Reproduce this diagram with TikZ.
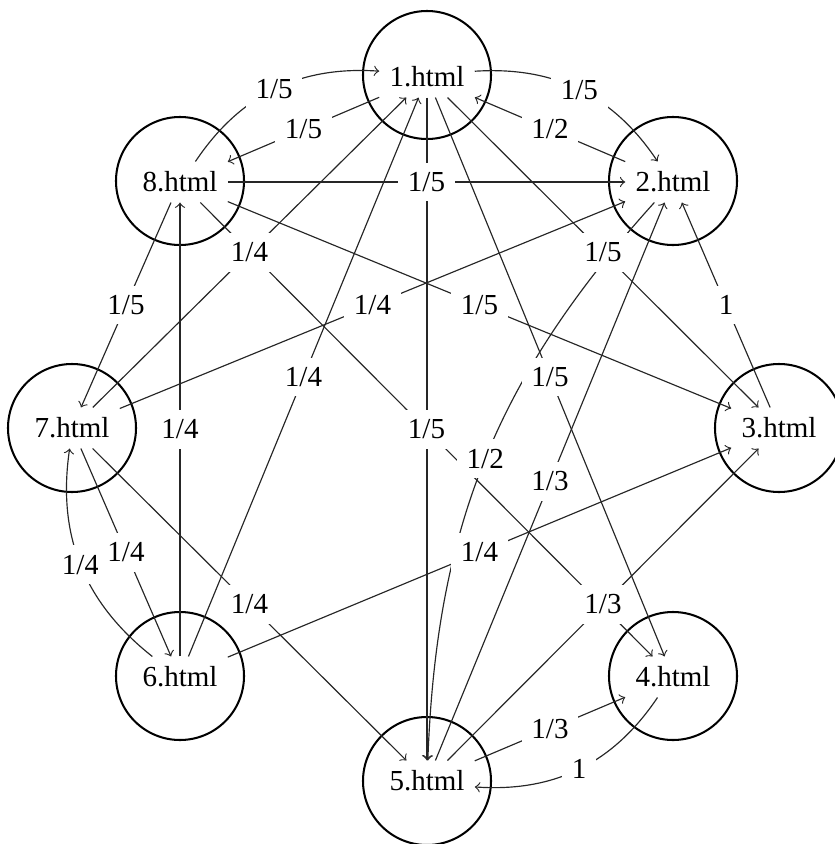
\documentclass[tikz,border=0pt]{standalone}
\usepackage{fontspec}
\setmainfont{Liberation Serif}
\pgfdeclarelayer{fg}
\pgfsetlayers{main,fg}
\tikzset{
  pg/.style={inner sep=0.3333em, font=\fontsize{10}{12}\selectfont},
  ring/.style={circle, draw, line width=0.7pt, minimum size=44.1pt, inner sep=0pt},
  lnk/.style={->, line width=0.4pt, black!85},
  lab/.style={fill=white, inner sep=0.3333em, font=\fontsize{10}{12}\selectfont},
}
\newcommand\pgedge[4][]{%
  \draw[lnk] (n#2) to[#1] (n#3);
  \begin{pgfonlayer}{fg}\path (n#2) to[#1] node[lab] {#4} (n#3);\end{pgfonlayer}}
\begin{document}
\begin{tikzpicture}[x=0.3445pt, y=0.3445pt]
\useasboundingbox (0,0) rectangle (834,-844);
% text nodes
\node[pg] (n1) at (427,-77) {1.html};
\node[pg] (n2) at (673,-182) {2.html};
\node[pg] (n3) at (779,-428) {3.html};
\node[pg] (n4) at (673,-677) {4.html};
\node[pg] (n5) at (427,-781) {5.html};
\node[pg] (n6) at (180,-677) {6.html};
\node[pg] (n7) at (72,-428) {7.html};
\node[pg] (n8) at (180,-182) {8.html};
% rings
\node[ring] (c1) at (427,-75) {};
\node[ring] (c2) at (673,-181) {};
\node[ring] (c3) at (779,-428) {};
\node[ring] (c4) at (673,-676) {};
\node[ring] (c5) at (427,-781) {};
\node[ring] (c6) at (180,-676) {};
\node[ring] (c7) at (72,-428) {};
\node[ring] (c8) at (180,-181) {};
% edges
\pgedge[bend left=30]{8}{1}{1/5}
\pgedge{1}{8}{1/5}
\pgedge[bend left=30]{1}{2}{1/5}
\pgedge{2}{1}{1/2}
\pgedge{8}{2}{1/5}
\pgedge{1}{5}{1/5}
\pgedge{1}{4}{1/5}
\pgedge{1}{3}{1/5}
\pgedge[bend right=20]{2}{5}{1/2}
\pgedge{3}{2}{1}
\pgedge[bend left=30]{4}{5}{1}
\pgedge{5}{4}{1/3}
\pgedge{5}{3}{1/3}
\pgedge{5}{2}{1/3}
\pgedge{6}{8}{1/4}
\pgedge{6}{1}{1/4}
\pgedge{6}{3}{1/4}
\pgedge[bend left=30]{6}{7}{1/4}
\pgedge{7}{6}{1/4}
\pgedge{7}{1}{1/4}
\pgedge{7}{2}{1/4}
\pgedge{7}{5}{1/4}
\pgedge{8}{7}{1/5}
\pgedge{8}{3}{1/5}
\pgedge{8}{4}{1/5}
\end{tikzpicture}
\end{document}
